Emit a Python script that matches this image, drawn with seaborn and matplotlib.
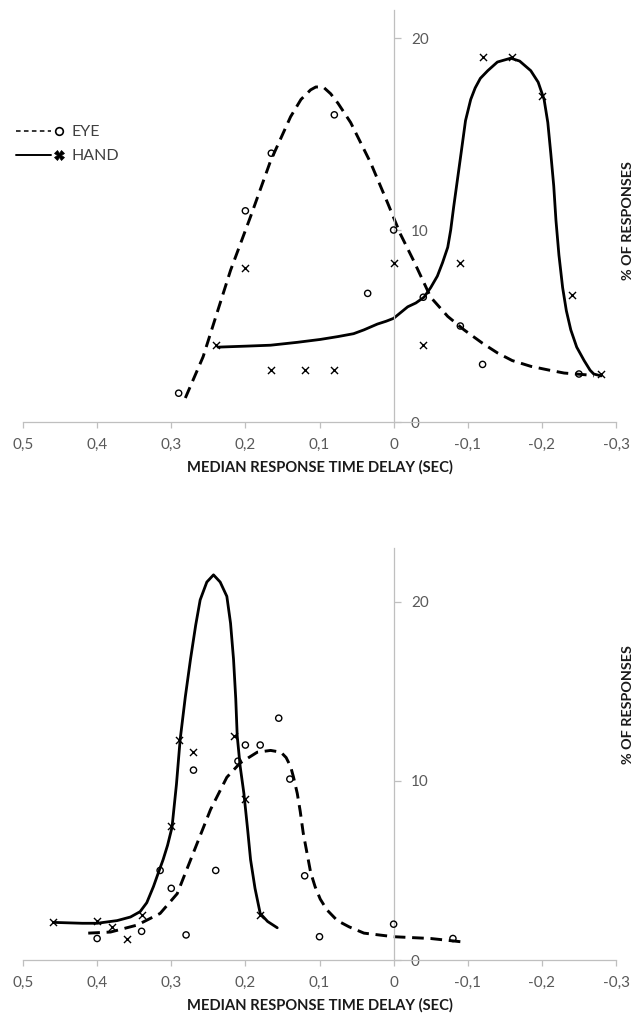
import numpy as np
import matplotlib
matplotlib.use("Agg")
import matplotlib.pyplot as plt
from matplotlib.lines import Line2D
from matplotlib.legend_handler import HandlerLine2DCompound
import seaborn as sns

# ---- data ----
# top panel: observed points
eye_top_x = [0.29, 0.20, 0.165, 0.08, 0.0, 0.035, -0.04, -0.09, -0.12, -0.25]
eye_top_y = [1.5, 11.0, 14.0, 16.0, 10.0, 6.7, 6.5, 5.0, 3.0, 2.5]
hand_top_x = [0.24, 0.20, 0.165, 0.12, 0.08, 0.0, -0.04, -0.09, -0.12, -0.16, -0.20, -0.24, -0.28]
hand_top_y = [4.0, 8.0, 2.7, 2.7, 2.7, 8.3, 4.0, 8.3, 19.0, 19.0, 17.0, 6.6, 2.5]

# top panel: fitted curves
eye_top_fit_x = [0.281, 0.257, 0.22, 0.193, 0.166, 0.139, 0.125, 0.112, 0.105, 0.095, 0.085, 0.075,
                 0.058, 0.031, 0.008, -0.009, -0.027, -0.05, -0.073, -0.095, -0.12, -0.14, -0.16,
                 -0.185, -0.21, -0.23, -0.262, -0.27]
eye_top_fit_y = [1.25, 3.4, 7.9, 10.7, 13.6, 15.9, 16.8, 17.3, 17.45, 17.45, 17.1, 16.6,
                 15.6, 13.5, 11.4, 9.8, 8.4, 6.5, 5.5, 4.8, 4.1, 3.6, 3.2,
                 2.9, 2.7, 2.55, 2.45, 2.4]
hand_top_fit_x = [0.237, 0.20, 0.166, 0.13, 0.099, 0.075, 0.054, 0.04, 0.022, 0.01, 0.0, -0.019,
                  -0.03, -0.041, -0.05, -0.059, -0.066, -0.073, -0.077, -0.081, -0.086, -0.091,
                  -0.097, -0.104, -0.11, -0.117, -0.127, -0.14, -0.158, -0.17, -0.185, -0.195,
                  -0.203, -0.208, -0.212, -0.216, -0.219, -0.223, -0.228, -0.233, -0.239, -0.247,
                  -0.257, -0.265, -0.27, -0.28]
hand_top_fit_y = [3.9, 3.95, 4.0, 4.15, 4.3, 4.45, 4.6, 4.8, 5.1, 5.25, 5.4, 6.0,
                  6.2, 6.5, 7.0, 7.6, 8.3, 9.1, 10.0, 11.2, 12.6, 14.0,
                  15.7, 16.8, 17.4, 17.9, 18.3, 18.75, 18.95, 18.8, 18.3, 17.7,
                  16.8, 15.6, 14.0, 12.3, 10.5, 8.7, 7.0, 5.8, 4.8, 3.9,
                  3.2, 2.7, 2.5, 2.4]

# bottom panel: observed points
eye_bot_x = [0.40, 0.34, 0.30, 0.315, 0.28, 0.24, 0.27, 0.21, 0.20, 0.18, 0.155, 0.14, 0.12, 0.10, 0.0, -0.08]
eye_bot_y = [1.2, 1.6, 4.0, 5.0, 1.4, 5.0, 10.6, 11.1, 12.0, 12.0, 13.5, 10.1, 4.7, 1.3, 2.0, 1.2]
hand_bot_x = [0.46, 0.40, 0.38, 0.36, 0.34, 0.30, 0.29, 0.27, 0.215, 0.20, 0.18]
hand_bot_y = [2.1, 2.2, 1.85, 1.2, 2.5, 7.5, 12.3, 11.6, 12.5, 9.0, 2.5]

# bottom panel: fitted curves
eye_bot_fit_x = [0.412, 0.382, 0.346, 0.315, 0.292, 0.27, 0.247, 0.225, 0.207, 0.184, 0.166, 0.152,
                 0.145, 0.139, 0.135, 0.13, 0.126, 0.122, 0.117, 0.112, 0.106, 0.099, 0.09, 0.076,
                 0.06, 0.04, 0.02, 0.0, -0.05, -0.095]
eye_bot_fit_y = [1.5, 1.56, 1.95, 2.6, 3.7, 6.0, 8.4, 10.2, 11.0, 11.6, 11.7, 11.6,
                 11.3, 10.8, 10.2, 9.3, 8.3, 7.1, 6.0, 4.9, 4.1, 3.4, 2.8, 2.2,
                 1.85, 1.5, 1.4, 1.3, 1.2, 1.0]
hand_bot_fit_x = [0.459, 0.42, 0.40, 0.373, 0.355, 0.342, 0.333, 0.324, 0.318, 0.311, 0.305, 0.299,
                  0.293, 0.288, 0.281, 0.274, 0.267, 0.261, 0.252, 0.243, 0.234, 0.225, 0.22,
                  0.216, 0.213, 0.211, 0.207, 0.202, 0.197, 0.193, 0.187, 0.18, 0.17, 0.157]
hand_bot_fit_y = [2.1, 2.05, 2.05, 2.2, 2.4, 2.7, 3.2, 4.1, 4.8, 5.6, 6.4, 7.4,
                  9.8, 12.3, 14.7, 16.8, 18.7, 20.1, 21.1, 21.5, 21.1, 20.3, 18.8,
                  16.8, 14.6, 12.5, 10.8, 9.3, 7.3, 5.6, 4.0, 2.6, 2.15, 1.8]

xticks = [0.5, 0.4, 0.3, 0.2, 0.1, 0.0, -0.1, -0.2, -0.3]
xtick_labels = ["0,5", "0,4", "0,3", "0,2", "0,1", "0", "-0,1", "-0,2", "-0,3"]
yticks = [0, 10, 20]
series_labels = ["EYE", "HAND"]
xlabel = "MEDIAN RESPONSE TIME DELAY (SEC)"
ylabel = "% OF RESPONSES"

sns.set_style("white")
plt.rcParams['font.family'] = ['Lato', 'DejaVu Sans']

GRID = '#bfbfbf'
TICKTXT = '#595959'
DASH = (0, (4, 2.3))


class EndMarker(HandlerLine2DCompound):
    # line on the left, marker at the right end (Excel style legend)
    def get_xdata(self, legend, xdescent, ydescent, width, height, fontsize):
        xdata = np.array([-xdescent, -xdescent + width * 0.8])
        return xdata, np.array([-xdescent + width])


def draw_panel(ax, ex, ey, hx, hy, efx, efy, hfx, hfy):
    sns.lineplot(x=efx, y=efy, sort=False, estimator=None, color='black',
                 linewidth=2.1, linestyle=DASH, dash_joinstyle='round', ax=ax)
    sns.lineplot(x=hfx, y=hfy, sort=False, estimator=None, color='black',
                 linewidth=2.0, solid_joinstyle='round', ax=ax)
    sns.scatterplot(x=ex, y=ey, marker='o', s=20, color='black', facecolor='none',
                    edgecolor='black', linewidth=1.0, ax=ax, zorder=3)
    sns.scatterplot(x=hx, y=hy, marker='x', s=26, color='black', linewidth=1.0,
                    ax=ax, zorder=3)


def style_axes(ax, ytop, xl_y, yl_y):
    ax.set_xlim(0.5, -0.3)
    ax.set_ylim(0, ytop)
    ax.spines['top'].set_visible(False)
    ax.spines['left'].set_visible(False)
    ax.spines['right'].set_position(('data', 0))
    for s in ['right', 'bottom']:
        ax.spines[s].set_color(GRID)
        ax.spines[s].set_linewidth(0.9)
    ax.yaxis.tick_right()
    ax.set_xticks(xticks)
    ax.set_xticklabels(xtick_labels)
    ax.set_yticks(yticks)
    ax.tick_params(axis='x', bottom=True, direction='out', length=4, width=0.9,
                   color=GRID, labelcolor=TICKTXT, labelsize=11, pad=7.5)
    ax.tick_params(axis='y', right=True, left=False, direction='out', length=5, width=0.9,
                   color=GRID, labelcolor=TICKTXT, labelsize=11, pad=7.5)
    ax.set_xlabel(xlabel, fontsize=10.6, fontweight='bold', color='#1a1a1a')
    ax.xaxis.set_label_coords(0.5, xl_y)
    ax.yaxis.set_label_position('right')
    ax.set_ylabel(ylabel, fontsize=10.4, fontweight='bold', color='#1a1a1a', rotation=90)
    ax.yaxis.set_label_coords(1.0105, yl_y)


fig = plt.figure(figsize=(6.39, 10.14), dpi=100)
W, H = 639, 1014
ax1 = fig.add_axes([23 / W, 1 - 422 / H, 593 / W, 412 / H])
ax2 = fig.add_axes([23 / W, 1 - 960 / H, 593 / W, 412 / H])

draw_panel(ax1, eye_top_x, eye_top_y, hand_top_x, hand_top_y,
           eye_top_fit_x, eye_top_fit_y, hand_top_fit_x, hand_top_fit_y)
draw_panel(ax2, eye_bot_x, eye_bot_y, hand_bot_x, hand_bot_y,
           eye_bot_fit_x, eye_bot_fit_y, hand_bot_fit_x, hand_bot_fit_y)

style_axes(ax1, 21.46, -0.092, 0.49)
style_axes(ax2, 23.0, -0.093, 0.62)

h_eye = Line2D([], [], color='black', linewidth=1.1, linestyle=(0, (3, 2.2)),
               marker='o', markersize=5.5, markerfacecolor='white', markeredgewidth=1.2)
h_hand = Line2D([], [], color='black', linewidth=1.4, linestyle='-',
                marker='X', markersize=6.5, markeredgewidth=0.5)
ax1.legend(handles=[h_eye, h_hand], labels=series_labels, handler_map={Line2D: EndMarker()},
           loc='upper left', bbox_to_anchor=(16 / W, 1 - 125 / H), bbox_transform=fig.transFigure,
           frameon=False, fontsize=11.5, handlelength=2.7, handletextpad=0.75,
           labelspacing=0.62, borderpad=0, borderaxespad=0, labelcolor='#404040')

fig.savefig("out.png", dpi=100)
